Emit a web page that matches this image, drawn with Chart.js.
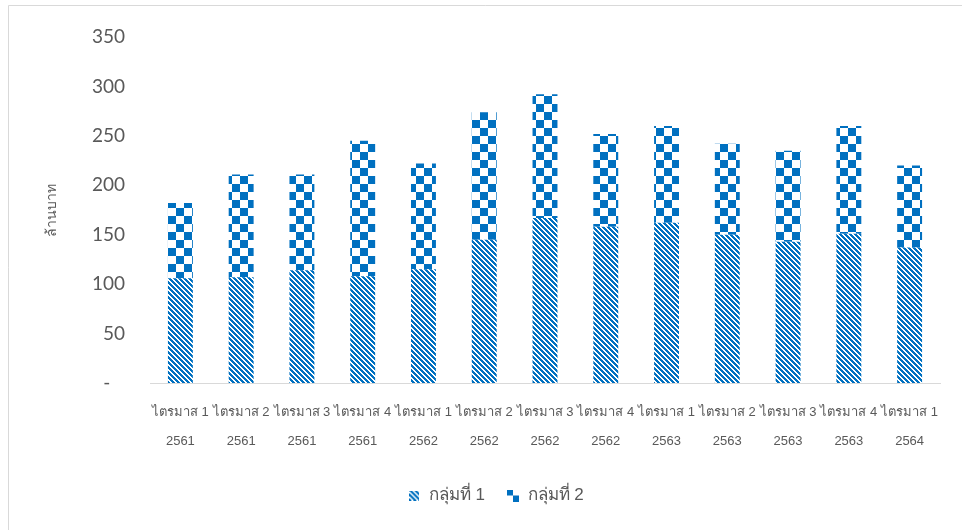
<!DOCTYPE html>
<html>
<head>
<meta charset="utf-8">
<script src="https://cdn.jsdelivr.net/npm/chart.js@4/dist/chart.umd.min.js"></script>
<style>
  html, body { margin: 0; padding: 0; background: #fff; }
  #wrap { width: 962px; height: 530px; position: relative; }
</style>
</head>
<body>
<div id="wrap"><canvas id="barChart"></canvas></div>
<script>
  // ข้อมูลรายไตรมาส (ล้านบาท)
  const quarterLabels = ['ไตรมาส 1', 'ไตรมาส 2', 'ไตรมาส 3', 'ไตรมาส 4', 'ไตรมาส 1', 'ไตรมาส 2', 'ไตรมาส 3',
    'ไตรมาส 4', 'ไตรมาส 1', 'ไตรมาส 2', 'ไตรมาส 3', 'ไตรมาส 4', 'ไตรมาส 1'];
  const yearLabels = ['2561', '2561', '2561', '2561', '2562', '2562', '2562', '2562', '2563', '2563', '2563', '2563', '2564'];
  const group1 = [106, 107, 114, 108, 115, 145, 167, 158, 162, 150, 143, 151, 137];
  const group2 = [76, 104, 97, 137, 107, 129, 125, 94, 98, 92, 92, 109, 83];
  const yTicks = [0, 50, 100, 150, 200, 250, 300, 350];

  const BLUE = '#0070C0';
  const GREY = '#595959';

  function stripeTile(s) {
    const c = document.createElement('canvas');
    c.width = s; c.height = s;
    const g = c.getContext('2d');
    const img = g.createImageData(s, s);
    for (let y = 0; y < s; y++) {
      for (let x = 0; x < s; x++) {
        const i = (y * s + x) * 4;
        const on = ((x - y) % 5 + 5) % 5 < 2.5;
        img.data[i] = on ? 0 : 255;
        img.data[i + 1] = on ? 112 : 255;
        img.data[i + 2] = on ? 192 : 255;
        img.data[i + 3] = 255;
      }
    }
    g.putImageData(img, 0, 0);
    return c;
  }

  function checkerTile(s) {
    const c = document.createElement('canvas');
    c.width = s * 2; c.height = s * 2;
    const g = c.getContext('2d');
    g.fillStyle = '#fff';
    g.fillRect(0, 0, s * 2, s * 2);
    g.fillStyle = BLUE;
    g.fillRect(0, 0, s, s);
    g.fillRect(s, s, s, s);
    return c;
  }

  const ctx0 = document.createElement('canvas').getContext('2d');
  const stripeFill = ctx0.createPattern(stripeTile(5), 'repeat');
  const checkerFill = ctx0.createPattern(checkerTile(8), 'repeat');
  const legendIcons = [stripeTile(10), checkerTile(6)];

  const frame = {
    id: 'frame',
    beforeDraw(chart) {
      const ctx = chart.ctx;
      ctx.save();
      ctx.fillStyle = '#fff';
      ctx.fillRect(0, 0, chart.width, chart.height);
      ctx.strokeStyle = '#d9d9d9';
      ctx.lineWidth = 1;
      ctx.beginPath();
      ctx.moveTo(8.5, chart.height);
      ctx.lineTo(8.5, 5.5);
      ctx.lineTo(chart.width, 5.5);
      ctx.stroke();
      ctx.restore();
    }
  };

  // legend sits a bit right of the canvas centre, like the original
  const legendShift = {
    id: 'legendShift',
    afterLayout(chart) {
      const lg = chart.legend;
      if (!lg) return;
      lg.left += 26;
      lg.right += 26;
    }
  };

  const labels = quarterLabels.map((q, i) => [q, yearLabels[i]]);

  new Chart(document.getElementById('barChart'), {
    type: 'bar',
    data: {
      labels: labels,
      datasets: [
        { label: 'กลุ่มที่ 1', data: group1, backgroundColor: stripeFill, borderWidth: 0 },
        { label: 'กลุ่มที่ 2', data: group2, backgroundColor: checkerFill, borderWidth: 0 }
      ]
    },
    options: {
      responsive: true,
      maintainAspectRatio: false,
      animation: false,
      layout: { padding: { top: 37, right: 22, bottom: 16, left: 0 } },
      datasets: { bar: { barPercentage: 0.41, categoryPercentage: 1 } },
      plugins: {
        tooltip: { enabled: false },
        legend: {
          position: 'bottom',
          labels: {
            usePointStyle: true, boxWidth: 12, boxHeight: 12, padding: 22,
            color: GREY,
            font: { family: 'Liberation Sans, Noto Sans', size: 17 },
            generateLabels(chart) {
              return chart.data.datasets.map((ds, i) => ({
                text: ds.label, datasetIndex: i, pointStyle: legendIcons[i],
                fontColor: GREY, lineWidth: 0, hidden: false
              }));
            }
          }
        }
      },
      scales: {
        x: {
          stacked: true,
          afterFit(scale) { scale.height = 82; },
          grid: { display: false },
          border: { display: true, color: '#d9d9d9' },
          ticks: {
            color: GREY, autoSkip: false, maxRotation: 0, minRotation: 0, padding: 6,
            font: { family: 'Liberation Sans, Noto Sans', size: 13, lineHeight: 2.3 }
          }
        },
        y: {
          stacked: true,
          min: 0, max: 350,
          afterBuildTicks(scale) { scale.ticks = yTicks.map(v => ({ value: v })); },
          afterFit(scale) { scale.width = 150; },
          grid: { display: false },
          border: { display: false },
          ticks: {
            color: GREY, padding: 17,
            font: { family: 'Lato, Open Sans', size: 19 },
            callback: v => (v === 0 ? '-   ' : v)
          },
          title: {
            display: true, text: 'ล้านบาท', color: GREY,
            font: { family: 'Liberation Sans, Noto Sans', size: 14 },
            padding: { top: 44, bottom: 0 }
          }
        }
      }
    },
    plugins: [frame, legendShift]
  });
</script>
</body>
</html>
